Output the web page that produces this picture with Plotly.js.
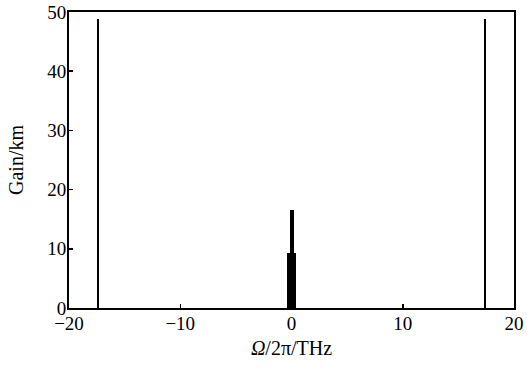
<!DOCTYPE html>
<html>
<head>
<meta charset="utf-8">
<script src="https://cdn.plot.ly/plotly-3.0.1.min.js"></script>
<style>
  html, body { margin: 0; padding: 0; background: #fff; }
  #chart { width: 527px; height: 369px; }
</style>
</head>
<body>
<div id="chart"></div>
<script>
// Gain spectrum: frequency offset (THz) and gain (per km) of each spectral line
const lineFreq = [-17.4, 0.0, 0.0, 17.4];
const lineGain = [48.8, 9.3, 16.6, 48.8];
// spectral width of each line (THz)
const lineWidth = [0.18, 0.84, 0.36, 0.18];

const xTicks = [-20, -10, 0, 10, 20];
const yTicks = [0, 10, 20, 30, 40, 50];

const serif = "Liberation Serif, Times New Roman, serif";

const trace = {
  type: "bar",
  x: lineFreq,
  y: lineGain,
  width: lineWidth,
  marker: { color: "#000", line: { width: 0 } },
  hoverinfo: "x+y"
};

const axisCommon = {
  showgrid: false,
  zeroline: false,
  showline: true,
  linecolor: "#000",
  linewidth: 2,
  mirror: true,
  ticks: "inside",
  ticklen: 4,
  tickwidth: 1.5,
  tickcolor: "#000",
  tickfont: { family: serif, size: 19, color: "#000" }
};

const layout = {
  width: 527,
  height: 369,
  margin: { l: 69, r: 13, t: 12, b: 61 },
  paper_bgcolor: "#fff",
  plot_bgcolor: "#fff",
  showlegend: false,
  barmode: "overlay",
  bargap: 0,
  xaxis: Object.assign({}, axisCommon, {
    range: [-20, 20],
    tickvals: xTicks,
    ticklabelstandoff: -3,
    title: { text: "<i>Ω</i>/2π/THz", font: { family: serif, size: 20, color: "#000" }, standoff: 8 }
  }),
  yaxis: Object.assign({}, axisCommon, {
    range: [0, 50],
    tickvals: yTicks,
    ticklabelstandoff: -3,
    title: { text: "Gain/km", font: { family: serif, size: 20, color: "#000" }, standoff: 18 }
  })
};

Plotly.newPlot("chart", [trace], layout, { staticPlot: true, displayModeBar: false });
</script>
</body>
</html>
